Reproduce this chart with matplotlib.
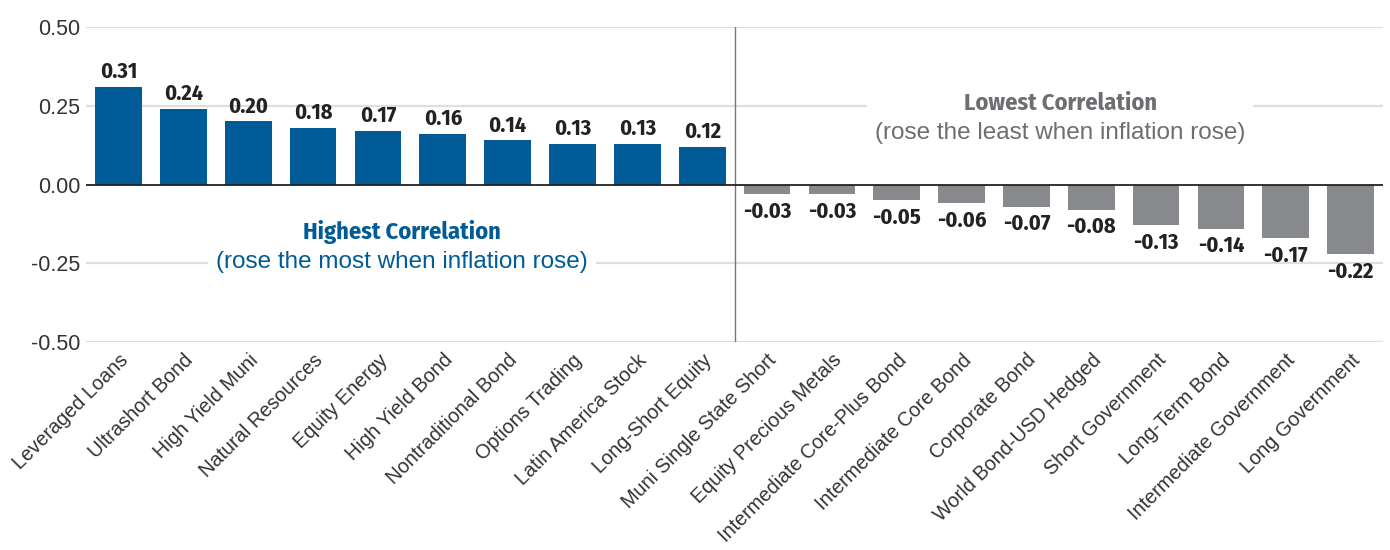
import matplotlib.pyplot as plt
from matplotlib import font_manager
from matplotlib.patches import Rectangle

# Category correlations with inflation
categories = [
    "Leveraged Loans", "Ultrashort Bond", "High Yield Muni", "Natural Resources",
    "Equity Energy", "High Yield Bond", "Nontraditional Bond", "Options Trading",
    "Latin America Stock", "Long-Short Equity", "Muni Single State Short",
    "Equity Precious Metals", "Intermediate Core-Plus Bond", "Intermediate Core Bond",
    "Corporate Bond", "World Bond-USD Hedged", "Short Government", "Long-Term Bond",
    "Intermediate Government", "Long Government",
]
values = [0.31, 0.24, 0.20, 0.18, 0.17, 0.16, 0.14, 0.13, 0.13, 0.12,
          -0.03, -0.03, -0.05, -0.06, -0.07, -0.08, -0.13, -0.14, -0.17, -0.22]
yticks = [0.50, 0.25, 0.00, -0.25, -0.50]

BLUE = "#005b96"
GRAY = "#87898c"
TEXT = "#333333"
NOTE_GRAY = "#6d6e71"

installed = {f.name for f in font_manager.fontManager.ttflist}


def pick(*families):
    for fam in families:
        if fam in installed:
            return fam
    return "DejaVu Sans"


cond = pick("Fira Sans Condensed", "PT Sans Narrow", "Barlow Condensed",
            "Roboto Condensed", "Archivo Narrow", "Liberation Sans Narrow")
plain = pick("Liberation Sans")
plt.rcParams["font.family"] = [plain, "DejaVu Sans"]

fig = plt.figure(figsize=(13.9, 5.5), dpi=100)
ax = fig.add_axes([0.062, 0.378, 0.933, 0.573])

x = list(range(len(values)))
colors = [BLUE if v > 0 else GRAY for v in values]
ax.bar(x, values, width=0.72, color=colors, zorder=3)

ax.set_xlim(-0.5, len(values) - 0.5)
ax.set_ylim(-0.5, 0.5)
ax.set_yticks(yticks)
ax.set_yticklabels([f"{t:.2f}" for t in yticks], fontsize=15.5, color=TEXT)
for t in yticks:
    if t == 0:
        ax.axhline(t, color="#222222", lw=1.3, zorder=4)
    else:
        ax.axhline(t, color="#dedede", lw=1.6, zorder=1)

ax.set_xticks(x)
ax.set_xticklabels(categories, rotation=45, ha="right", rotation_mode="anchor",
                   fontsize=14.3, color=TEXT)
ax.tick_params(axis="x", length=0, pad=6)
ax.tick_params(axis="y", length=0, pad=4)
for s in ax.spines.values():
    s.set_visible(False)

# divider between the two groups
ax.plot([9.5, 9.5], [-0.5, 0.5], color="#777777", lw=1, zorder=2)

# value labels
for xi, v in zip(x, values):
    off, va = (3, "bottom") if v > 0 else (-5, "top")
    ax.annotate(f"{v:.2f}", (xi, v), xytext=(0, off), textcoords="offset points",
                ha="center", va=va, fontsize=16, fontweight="bold",
                family=cond, color="#222222")

notes = [
    (4.37, -0.15, -0.247, "Highest Correlation",
     "(rose the most when inflation rose)", BLUE),
    (14.52, 0.258, 0.165, "Lowest Correlation",
     "(rose the least when inflation rose)", NOTE_GRAY),
]
blocks = []
for nx, y1, y2, head, sub, col in notes:
    t1 = ax.text(nx, y1, head, ha="center", va="center", fontsize=17.5,
                 fontweight="bold", family=cond, color=col, zorder=5)
    t2 = ax.text(nx, y2, sub, ha="center", va="center", fontsize=17.5,
                 color=col, zorder=5)
    blocks.append((t1, t2))

# white panels behind the notes so the gridlines break around them
fig.canvas.draw()
renderer = fig.canvas.get_renderer()
inv = ax.transData.inverted()
for t1, t2 in blocks:
    b1 = t1.get_window_extent(renderer)
    b2 = t2.get_window_extent(renderer)
    x0 = min(b1.x0, b2.x0) - 8
    x1 = max(b1.x1, b2.x1) + 8
    y0 = min(b1.y0, b2.y0) - 4
    y1 = max(b1.y1, b2.y1) + 4
    (dx0, dy0), (dx1, dy1) = inv.transform([(x0, y0), (x1, y1)])
    ax.add_patch(Rectangle((dx0, dy0), dx1 - dx0, dy1 - dy0, facecolor="white",
                           edgecolor="none", zorder=1.5))

fig.savefig("out.png", dpi=100)
